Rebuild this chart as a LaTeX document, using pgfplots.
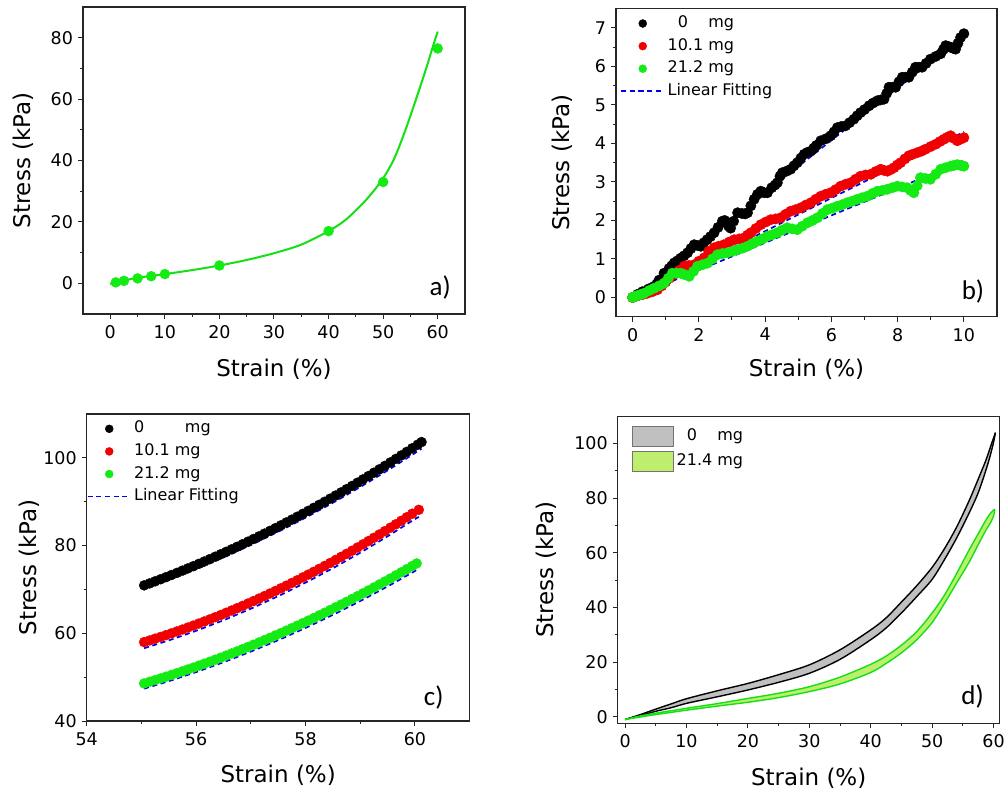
\documentclass[border=0pt]{standalone}
\usepackage{fontspec}
\setmainfont{DejaVu Sans}
\newfontfamily\calfont{Carlito}
\usepackage{pgfplots}
\pgfplotsset{compat=1.18}

\definecolor{mygreen}{RGB}{20,235,20}
\definecolor{myred}{RGB}{240,0,0}
\definecolor{myblue}{RGB}{0,0,240}
\definecolor{loopgray}{RGB}{192,192,192}
\definecolor{loopgreen}{RGB}{190,238,110}
\definecolor{linegreen}{RGB}{20,225,20}

\newcommand{\tickfont}{\fontsize{17.5}{20}\selectfont}

\pgfplotsset{
  origin/.style={
    scale only axis,
    axis line style={line width=1.3pt,black!85},
    every tick/.style={line width=1pt,black!85},
    tick align=outside, tick pos=left,
    major tick length=5pt, minor tick length=3pt,
    minor x tick num=1, minor y tick num=1,
    /pgf/number format/assume math mode=true,
    xticklabel={\tickfont\pgfmathprintnumber[assume math mode=true]{\tick}},
    yticklabel={\tickfont\pgfmathprintnumber[assume math mode=true]{\tick}},
    tick label style={font=\tickfont},
    xticklabel style={yshift=-3pt},
    yticklabel style={xshift=-1.5pt},
    label style={font=\fontsize{23}{26}\selectfont},
    xlabel={Strain (\%)}, ylabel={Stress (kPa)},
  },
  ptlegend/.style={
    legend cell align=left,
    legend style={draw=none,fill=none,font=\fontsize{16}{18}\selectfont,
      row sep=2.6pt,inner sep=0pt,
      nodes={inner ysep=2pt,inner xsep=2.5pt,text height=12pt,text depth=4pt}},
    legend image code/.code={
      \draw[##1,mark size=4pt,mark repeat=2,mark phase=2]
        plot coordinates {(0pt,0pt) (21.5pt,0pt) (43pt,0pt)};},
  },
  fitline/.style={myblue, line width=1.7pt, dash pattern=on 5pt off 3.6pt},
}

\begin{document}
\begin{tikzpicture}[x=1pt,y=1pt]
\useasboundingbox (0pt,0pt) rectangle (1007pt,796pt);

% ---------- a) ----------
\begin{axis}[origin,
  at={(83pt,482pt)}, anchor=south west, width=382pt, height=307pt,
  xmin=-5, xmax=65, ymin=-10, ymax=90,
  xtick={0,10,...,60}, ytick={0,20,...,80},
  xlabel style={at={(axis description cs:0.5,-0.179)},anchor=center},
  ylabel style={at={(axis description cs:-0.157,0.5)},anchor=center},
]
\addplot[linegreen, line width=2pt, smooth] coordinates {
(0,-0.3)(2,0.7)(5,1.8)(10,3.0)(15,4.3)(20,5.8)(25,7.6)(30,9.8)(35,12.6)(40,17)
(43,20.5)(46,25.5)(48,29.5)(50,34.2)(52,40.5)(54,49.5)(56,59.8)(58,70.6)(59,76.5)(60,82)};
\addplot[only marks, mark=*, mark size=5pt, color=mygreen] coordinates {
(1,0.3)(2.5,0.8)(5,1.6)(7.5,2.3)(10,3.0)(20,5.8)(40,17)(50,33)(60,76.5)};
\node[font=\calfont\fontsize{27}{30}\selectfont] at (axis description cs:0.935,0.085) {a)};
\end{axis}

% ---------- b) ----------
\begin{axis}[origin, ptlegend,
  at={(616pt,479.3pt)}, anchor=south west, width=381pt, height=308pt,
  xmin=-0.5, xmax=11, ymin=-0.5, ymax=7.5,
  xtick={0,2,...,10}, ytick={0,1,...,7},
  xlabel style={at={(axis description cs:0.5,-0.172)},anchor=center},
  ylabel style={at={(axis description cs:-0.142,0.5)},anchor=center},
  legend style={at={(axis description cs:0.011,0.985)},anchor=north west},
]
\addplot[only marks, mark=*, mark size=5.2pt, color=black] coordinates {
(0,0)(0.15,0.08)(0.3,0.15)(0.48,0.22)(0.65,0.29)(0.8,0.45)(0.95,0.63)(1.1,0.75)(1.18,0.82)
(1.26,0.9)(1.35,0.95)(1.45,1.02)(1.55,1.08)(1.66,1.16)(1.76,1.27)(1.86,1.37)(1.96,1.35)
(2.06,1.33)(2.15,1.42)(2.25,1.5)(2.35,1.58)(2.46,1.68)(2.58,1.82)(2.71,1.98)(2.78,2.0)
(2.85,1.95)(2.9,1.85)(2.96,1.8)(3.05,1.98)(3.17,2.2)(3.3,2.18)(3.4,2.17)(3.47,2.2)(3.57,2.38)
(3.67,2.55)(3.77,2.68)(3.87,2.76)(3.97,2.72)(4.07,2.72)(4.2,2.85)(4.3,2.92)(4.37,2.98)
(4.45,3.15)(4.52,3.24)(4.65,3.28)(4.77,3.33)(4.87,3.42)(4.97,3.5)(5.08,3.62)(5.18,3.72)
(5.28,3.77)(5.38,3.8)(5.47,3.88)(5.55,3.95)(5.68,4.07)(5.83,4.12)(5.98,4.2)(6.08,4.3)
(6.18,4.41)(6.3,4.44)(6.43,4.46)(6.55,4.54)(6.68,4.63)(6.78,4.72)(6.88,4.8)(7.0,4.88)
(7.14,4.98)(7.26,5.05)(7.39,5.11)(7.49,5.13)(7.59,5.15)(7.67,5.3)(7.74,5.46)(7.84,5.46)
(7.94,5.46)(8.04,5.6)(8.14,5.72)(8.24,5.72)(8.34,5.72)(8.44,5.85)(8.54,5.98)(8.64,5.98)
(8.74,5.98)(8.86,6.08)(8.99,6.19)(9.15,6.26)(9.3,6.33)(9.38,6.44)(9.45,6.54)(9.52,6.52)
(9.6,6.5)(9.68,6.47)(9.75,6.45)(9.82,6.6)(9.9,6.75)(10,6.85)};
\addplot[only marks, mark=*, mark size=5.2pt, color=myred] coordinates {
(0,0)(0.1,0.03)(0.2,0.06)(0.32,0.08)(0.45,0.11)(0.6,0.15)(0.75,0.2)(0.88,0.3)(1.0,0.4)
(1.12,0.5)(1.25,0.6)(1.4,0.7)(1.56,0.81)(1.7,0.83)(1.86,0.85)(2.0,0.94)(2.16,1.03)(2.3,1.2)
(2.46,1.29)(2.6,1.33)(2.76,1.37)(2.92,1.44)(3.07,1.5)(3.22,1.52)(3.37,1.55)(3.47,1.62)
(3.57,1.68)(3.72,1.79)(3.87,1.89)(4.02,1.96)(4.17,2.02)(4.32,2.04)(4.47,2.07)(4.62,2.16)
(4.77,2.24)(4.92,2.28)(5.08,2.33)(5.23,2.4)(5.38,2.46)(5.53,2.55)(5.68,2.63)(5.83,2.68)
(5.98,2.72)(6.13,2.8)(6.28,2.89)(6.43,2.94)(6.58,2.98)(6.73,3.07)(6.88,3.15)(7.03,3.18)
(7.19,3.2)(7.34,3.27)(7.49,3.33)(7.59,3.3)(7.69,3.28)(7.79,3.32)(7.89,3.37)(7.99,3.44)
(8.09,3.5)(8.22,3.6)(8.34,3.68)(8.46,3.72)(8.59,3.76)(8.72,3.8)(8.84,3.85)(9.0,3.92)
(9.15,3.98)(9.28,4.05)(9.4,4.11)(9.5,4.16)(9.6,4.2)(9.7,4.13)(9.8,4.07)(9.9,4.11)(10,4.15)};
\addplot[only marks, mark=*, mark size=5.2pt, color=mygreen] coordinates {
(0,0)(0.08,0.03)(0.15,0.05)(0.25,0.08)(0.35,0.11)(0.5,0.18)(0.65,0.24)(0.8,0.3)(0.95,0.37)
(1.08,0.5)(1.2,0.63)(1.33,0.63)(1.46,0.63)(1.58,0.59)(1.71,0.55)(1.84,0.68)(1.96,0.81)
(2.11,0.85)(2.26,0.89)(2.41,1.0)(2.56,1.11)(2.71,1.14)(2.86,1.16)(3.02,1.2)(3.17,1.24)
(3.32,1.28)(3.47,1.33)(3.62,1.4)(3.77,1.46)(3.92,1.52)(4.07,1.59)(4.22,1.63)(4.37,1.68)
(4.52,1.75)(4.67,1.81)(4.82,1.78)(4.97,1.76)(5.12,1.85)(5.28,1.94)(5.43,2.0)(5.58,2.07)
(5.73,2.18)(5.88,2.28)(6.03,2.32)(6.18,2.37)(6.33,2.41)(6.48,2.46)(6.63,2.5)(6.78,2.55)
(6.93,2.59)(7.09,2.63)(7.24,2.7)(7.39,2.76)(7.54,2.78)(7.69,2.81)(7.84,2.85)(7.99,2.89)
(8.14,2.87)(8.29,2.85)(8.39,2.78)(8.49,2.72)(8.59,2.9)(8.69,3.11)(8.84,3.09)(8.99,3.07)
(9.15,3.2)(9.3,3.33)(9.45,3.37)(9.6,3.41)(9.7,3.43)(9.8,3.45)(9.9,3.43)(10,3.41)};
\addplot[fitline] coordinates {(0,0)(10,6.8)};
\addplot[fitline, forget plot] coordinates {(0,0)(10,4.3)};
\addplot[fitline, forget plot] coordinates {(0,0)(10,3.55)};
\legend{\hphantom{1}0\hphantom{.1} mg, 10.1 mg, 21.2 mg, Linear Fitting}
\node[font=\calfont\fontsize{27}{30}\selectfont] at (axis description cs:0.937,0.081) {b)};
\end{axis}

% ---------- c) ----------
\begin{axis}[origin, ptlegend,
  at={(86.7pt,75pt)}, anchor=south west, width=383pt, height=307pt,
  xmin=54, xmax=61, ymin=40, ymax=110,
  xtick={54,56,58,60}, ytick={40,60,80,100},
  xlabel style={at={(axis description cs:0.5,-0.176)},anchor=center},
  ylabel style={at={(axis description cs:-0.151,0.5)},anchor=center},
  legend style={at={(axis description cs:0.0,0.985)},anchor=north west},
]
\addplot[only marks, mark=*, mark size=5pt, color=black] coordinates {
(55.05,70.93)(55.15,71.38)(55.25,71.85)(55.35,72.32)(55.45,72.80)(55.55,73.29)(55.65,73.78)
(55.75,74.29)(55.85,74.80)(55.95,75.31)(56.05,75.84)(56.15,76.37)(56.25,76.91)(56.35,77.46)
(56.45,78.02)(56.55,78.58)(56.65,79.15)(56.75,79.73)(56.85,80.31)(56.95,80.90)(57.05,81.51)
(57.15,82.11)(57.25,82.73)(57.35,83.35)(57.45,83.98)(57.55,84.62)(57.65,85.27)(57.75,85.92)
(57.85,86.58)(57.95,87.25)(58.05,87.92)(58.15,88.61)(58.25,89.30)(58.35,89.99)(58.45,90.70)
(58.55,91.41)(58.65,92.13)(58.75,92.86)(58.85,93.60)(58.95,94.34)(59.05,95.09)(59.15,95.85)
(59.25,96.62)(59.35,97.39)(59.45,98.17)(59.55,98.96)(59.65,99.76)(59.75,100.56)(59.85,101.37)
(59.95,102.19)(60.05,103.01)(60.12,103.60)};
\addplot[only marks, mark=*, mark size=5pt, color=myred] coordinates {
(55.05,57.99)(55.15,58.37)(55.25,58.77)(55.35,59.17)(55.45,59.58)(55.55,60.00)(55.65,60.43)
(55.75,60.86)(55.85,61.31)(55.95,61.76)(56.05,62.23)(56.15,62.70)(56.25,63.18)(56.35,63.67)
(56.45,64.17)(56.55,64.68)(56.65,65.20)(56.75,65.73)(56.85,66.26)(56.95,66.80)(57.05,67.36)
(57.15,67.92)(57.25,68.49)(57.35,69.07)(57.45,69.66)(57.55,70.26)(57.65,70.86)(57.75,71.48)
(57.85,72.10)(57.95,72.74)(58.05,73.38)(58.15,74.03)(58.25,74.69)(58.35,75.36)(58.45,76.03)
(58.55,76.72)(58.65,77.42)(58.75,78.12)(58.85,78.83)(58.95,79.56)(59.05,80.29)(59.15,81.03)
(59.25,81.78)(59.35,82.53)(59.45,83.30)(59.55,84.08)(59.65,84.86)(59.75,85.65)(59.85,86.46)
(59.95,87.27)(60.07,88.15)};
\addplot[only marks, mark=*, mark size=5pt, color=mygreen] coordinates {
(55.05,48.57)(55.15,48.95)(55.25,49.33)(55.35,49.71)(55.45,50.11)(55.55,50.51)(55.65,50.92)
(55.75,51.33)(55.85,51.75)(55.95,52.18)(56.05,52.62)(56.15,53.07)(56.25,53.52)(56.35,53.98)
(56.45,54.44)(56.55,54.92)(56.65,55.40)(56.75,55.89)(56.85,56.38)(56.95,56.89)(57.05,57.40)
(57.15,57.91)(57.25,58.44)(57.35,58.97)(57.45,59.51)(57.55,60.05)(57.65,60.61)(57.75,61.17)
(57.85,61.74)(57.95,62.31)(58.05,62.89)(58.15,63.48)(58.25,64.08)(58.35,64.69)(58.45,65.30)
(58.55,65.92)(58.65,66.54)(58.75,67.18)(58.85,67.82)(58.95,68.46)(59.05,69.12)(59.15,69.78)
(59.25,70.45)(59.35,71.13)(59.45,71.81)(59.55,72.50)(59.65,73.20)(59.75,73.91)(59.85,74.62)
(59.95,75.34)(60.03,75.92)};
\addplot[fitline] coordinates {
(55.05,70.12)(55.55,72.41)(56.05,74.89)(56.55,77.56)(57.05,80.42)(57.55,83.46)(58.05,86.69)
(58.55,90.11)(59.05,93.72)(59.55,97.52)(60.05,101.5)(60.12,102.08)};
\addplot[fitline, forget plot] coordinates {
(55.05,56.59)(55.55,58.58)(56.05,60.79)(56.55,63.22)(57.05,65.88)(57.55,68.76)(58.05,71.86)
(58.55,75.18)(59.05,78.73)(59.55,82.50)(59.95,85.67)(60.07,86.55)};
\addplot[fitline, forget plot] coordinates {
(55.05,47.37)(55.55,49.28)(56.05,51.36)(56.55,53.63)(57.05,56.08)(57.55,58.70)(58.05,61.51)
(58.55,64.51)(59.05,67.68)(59.55,71.03)(60.03,74.42)};
\legend{0\hphantom{10.1} mg, 10.1 mg, 21.2 mg, Linear Fitting}
\node[font=\calfont\fontsize{27}{30}\selectfont] at (axis description cs:0.906,0.078) {c)};
\end{axis}

% ---------- d) ----------
\begin{axis}[origin,
  at={(617.7pt,72.7pt)}, anchor=south west, width=382pt, height=307pt,
  xmin=-1.2, xmax=61, ymin=-2.4, ymax=110,
  xtick={0,10,...,60}, ytick={0,20,...,100},
  xlabel style={at={(axis description cs:0.5,-0.179)},anchor=center},
  ylabel style={at={(axis description cs:-0.186,0.5)},anchor=center},
  legend cell align=left,
  legend style={at={(axis description cs:0.036,0.968)},anchor=north west,
    draw=none,fill=none,font=\fontsize{16}{18}\selectfont,row sep=3.3pt,inner sep=0pt,
    nodes={inner ysep=0pt,inner xsep=3pt,text height=14pt,text depth=6pt}},
  legend image code/.code={
    \draw[#1,draw=black!55,line width=1pt] (0pt,-10pt) rectangle (41pt,10pt);},
]
% 0 mg loop: fill, then the two branches
\addplot[fill=loopgray, draw=none] coordinates {
(0,-1)(2.5,0.8)(5,2.8)(7.5,4.7)(10,6.6)(15,9.5)(20,12.2)(25,15.4)(30,19)(35,24.5)(40,31.8)
(42.5,36.2)(45,42)(47.5,48)(50,54.7)(52,61.5)(54,69.5)(56,79)(57.5,87)(58.8,94.2)(59.6,99.5)
(60.3,104)
(60,100.5)(59.5,96)(58.8,90.6)(57.5,82)(56,74.5)(54,65.5)(52,57.5)(50,50.3)(47.5,44)(45,38)
(42.5,32.5)(40,28.2)(35,21)(30,15.9)(25,12.6)(20,9.8)(15,7.3)(10,4.9)(7.5,3.3)(5,2.0)(2.5,0.4)
(0,-1)} -- cycle;
\addplot[black, line width=1.4pt, smooth, forget plot] coordinates {
(0,-1)(2.5,0.8)(5,2.8)(7.5,4.7)(10,6.6)(15,9.5)(20,12.2)(25,15.4)(30,19)(35,24.5)(40,31.8)
(42.5,36.2)(45,42)(47.5,48)(50,54.7)(52,61.5)(54,69.5)(56,79)(57.5,87)(58.8,94.2)(59.6,99.5)
(60.3,104)};
\addplot[black, line width=1.4pt, smooth, forget plot] coordinates {
(60.3,104)(60,100.5)(59.5,96)(58.8,90.6)(57.5,82)(56,74.5)(54,65.5)(52,57.5)(50,50.3)
(47.5,44)(45,38)(42.5,32.5)(40,28.2)(35,21)(30,15.9)(25,12.6)(20,9.8)(15,7.3)(10,4.9)
(7.5,3.3)(5,2.0)(2.5,0.4)(0,-1)};
% 21.4 mg loop
\addplot[fill=loopgreen, draw=none] coordinates {
(0,-1)(2.5,0.3)(5,1.3)(7.5,2.2)(10,3.1)(15,4.8)(20,6.7)(25,8.6)(30,11)(35,14.5)(40,19.2)
(42.5,22.2)(45,26.2)(47.5,31.2)(50,38)(52,44.5)(54,52.5)(56,61)(57.5,67)(58.8,72.2)(59.6,74.8)
(60.2,76)
(60,73.5)(59.5,71)(58.8,68.5)(57.5,63)(56,56.5)(54,49)(52,41.5)(50,34.5)(47.5,28.2)(45,23.4)
(42.5,19.5)(40,16.2)(35,12)(30,9.2)(25,7)(20,5.3)(15,3.9)(10,2.4)(7.5,1.6)(5,0.8)(2.5,-0.1)
(0,-1)} -- cycle;
\addplot[linegreen, line width=1.4pt, smooth, forget plot] coordinates {
(0,-1)(2.5,0.3)(5,1.3)(7.5,2.2)(10,3.1)(15,4.8)(20,6.7)(25,8.6)(30,11)(35,14.5)(40,19.2)
(42.5,22.2)(45,26.2)(47.5,31.2)(50,38)(52,44.5)(54,52.5)(56,61)(57.5,67)(58.8,72.2)(59.6,74.8)
(60.2,76)};
\addplot[linegreen, line width=1.4pt, smooth, forget plot] coordinates {
(60.2,76)(60,73.5)(59.5,71)(58.8,68.5)(57.5,63)(56,56.5)(54,49)(52,41.5)(50,34.5)(47.5,28.2)
(45,23.4)(42.5,19.5)(40,16.2)(35,12)(30,9.2)(25,7)(20,5.3)(15,3.9)(10,2.4)(7.5,1.6)(5,0.8)
(2.5,-0.1)(0,-1)};
\legend{\hphantom{1}0\hphantom{.1} mg, 21.4 mg}
\node[font=\calfont\fontsize{27}{30}\selectfont] at (axis description cs:0.929,0.088) {d)};
\end{axis}
\end{tikzpicture}
\end{document}
